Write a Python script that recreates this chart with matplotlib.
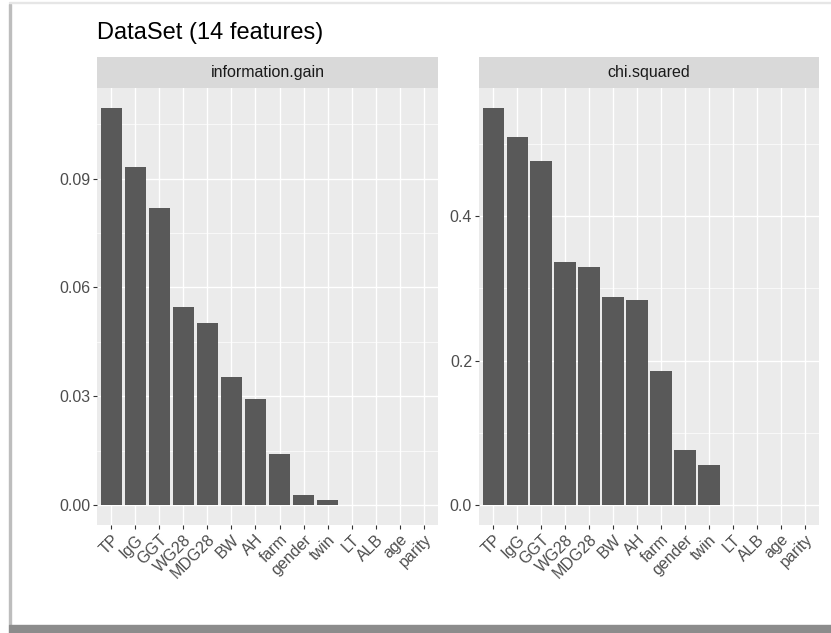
import matplotlib
matplotlib.use('Agg')
import matplotlib.pyplot as plt
from matplotlib.patches import Rectangle
from matplotlib.ticker import MultipleLocator

features = ['TP', 'IgG', 'GGT', 'WG28', 'MDG28', 'BW', 'AH', 'farm',
            'gender', 'twin', 'LT', 'ALB', 'age', 'parity']
info_gain = [0.1095, 0.0933, 0.0820, 0.0545, 0.0501, 0.0352, 0.0292,
             0.0140, 0.0028, 0.0014, 0, 0, 0, 0]
chi_sq = [0.550, 0.509, 0.477, 0.337, 0.330, 0.288, 0.284,
          0.186, 0.077, 0.055, 0, 0, 0, 0]
panel_titles = ['information.gain', 'chi.squared']
title = 'DataSet (14 features)'

W, H = 831, 633
fig = plt.figure(figsize=(W / 100, H / 100), dpi=100)
plt.rcParams['font.family'] = ['Liberation Sans', 'DejaVu Sans']

txt_col = '#4D4D4D'


def px(x0, y0, x1, y1):
    # pixel box (top-left origin) -> figure fraction rect
    return [x0 / W, 1 - y1 / H, (x1 - x0) / W, (y1 - y0) / H]


def facet(box, strip_box, vals, name, step, fmt):
    ax = fig.add_axes(px(*box))
    ax.set_facecolor('#EBEBEB')
    x = range(len(features))
    ax.bar(x, vals, width=0.9, color='#595959', zorder=3)
    top = max(vals)
    pad = top * 0.05
    ax.set_ylim(-pad, top + pad)
    ax.set_xlim(-0.6, len(features) - 0.4)
    ax.yaxis.set_major_locator(MultipleLocator(step))
    ax.yaxis.set_minor_locator(MultipleLocator(step / 2))
    ax.yaxis.set_major_formatter(matplotlib.ticker.FormatStrFormatter(fmt))
    ax.set_xticks(list(x))
    ax.set_xticklabels(features, rotation=45, ha='right', va='top',
                       rotation_mode='anchor')
    ax.grid(which='major', color='white', linewidth=1.0, zorder=0)
    ax.grid(which='minor', axis='y', color='white', linewidth=0.5, zorder=0)
    ax.set_axisbelow(True)
    for s in ax.spines.values():
        s.set_visible(False)
    ax.tick_params(which='major', length=3, width=0.8, color='#333333',
                   labelsize=11.5, labelcolor=txt_col, pad=2)
    ax.tick_params(which='minor', length=0)
    # facet strip
    sx = fig.add_axes(px(*strip_box))
    sx.set_facecolor('#D9D9D9')
    sx.set_xticks([])
    sx.set_yticks([])
    for s in sx.spines.values():
        s.set_visible(False)
    sx.text(0.5, 0.5, name, ha='center', va='center', fontsize=11.5,
            color='#1A1A1A', transform=sx.transAxes)
    return ax


facet((97, 88, 438, 525), (97, 57, 438, 88), info_gain, panel_titles[0],
      0.03, '%.2f')
facet((479, 88, 819, 525), (479, 57, 819, 88), chi_sq, panel_titles[1],
      0.2, '%.1f')

fig.text(97 / W, 1 - 33 / H, title, fontsize=17, ha='left', va='center',
         color='black')

# screenshot frame / shadow
fig.patches.append(Rectangle((9 / W, 1 - 4 / H), 2 / W, -(621 / H),
                             transform=fig.transFigure, color='#BDBDBD',
                             zorder=0))
fig.patches.append(Rectangle((9 / W, 0), 1 - 9 / W, 8 / H,
                             transform=fig.transFigure, color='#8C8C8C',
                             zorder=0))
fig.patches.append(Rectangle((9 / W, 1 - 3 / H), 1 - 9 / W, 1 / H,
                             transform=fig.transFigure, color='#E6E6E6',
                             zorder=0))

fig.savefig('out.png', dpi=100)
